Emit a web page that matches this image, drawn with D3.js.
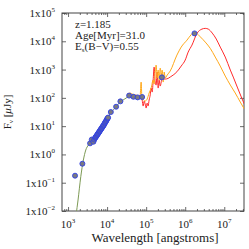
<!DOCTYPE html>
<meta charset="utf-8">
<script src="https://d3js.org/d3.v7.min.js"></script>
<style>
  body { margin: 0; background: #fff; }
  text { font-family: "Liberation Serif", "DejaVu Serif", serif; fill: #222; }
</style>
<div id="chart"></div>
<script>
// observed photometry (wavelength in angstroms, flux in microJy)
var obsWave = [1510, 2327, 3664, 4055, 4460, 4700, 4920, 5070, 5220, 5380, 5540, 5710, 5880, 6050, 6240, 6420,
  6620, 6810, 7020, 7230, 7450, 7670, 7890, 8130, 8380, 8630, 8890, 9160, 9420, 9710, 10000, 10300, 10600,
  12450, 17000, 21900, 36600, 47200, 60500, 78900, 253000, 1730000];
var obsFlux = [0.177, 0.469, 2.47, 3.36, 2.81, 3.36, 3.80, 4.05, 4.29, 4.54, 4.85, 5.17, 5.48, 5.80, 6.19, 6.55,
  7.00, 7.52, 7.90, 8.36, 8.93, 9.60, 10.1, 10.7, 11.4, 12.5, 13.4, 14.2, 15.1, 16.4, 17.8, 18.9, 20.1,
  31.5, 48.5, 75.2, 120, 109, 104, 107, 530, 19000];

// stellar model (green)
var greenWave = [1604, 1803, 2118, 2468, 2844, 3318, 4120, 5540, 7450, 9420, 11940, 16040, 20300, 27300, 36600];
var greenFlux = [0.0072, 0.0245, 0.163, 0.634, 1.43, 2.15, 3.10, 5.05, 9.29, 15.8, 28.3, 43.6, 65.5, 88.5, 116];

// model with dust emission (orange)
var orangeWave = [32600, 38900, 46400, 55400, 62400, 70200, 74400, 77600, 83800, 94200, 106000, 119000, 134000,
  151000, 160000, 170000, 180000, 191000, 203000, 215000, 229000, 243000, 257000, 273000, 290000, 307000,
  345000, 412000, 613000, 789000, 1110000, 1430000, 1630000, 1910000, 2430000, 3260000, 4380000, 5880000,
  7890000, 10600000, 14300000, 19100000, 25700000, 32600000];
var orangeFlux = [136, 148, 131, 126, 116, 126, 362, 116, 90.7, 77.1, 90.7, 148, 222,
  426, 307, 816, 1443, 501, 960, 426, 1130, 639, 960, 362, 816, 501,
  639, 885, 3250, 6240, 11000, 17300, 20300, 19500, 14400, 9370, 5610, 2770,
  1330, 589, 283, 148, 71.1, 40.2];

// second model (red)
var redWave = [62400, 70200, 78900, 83800, 88900, 94200, 100000, 106000, 112000, 119000, 127000, 134000, 143000,
  151000, 160000, 170000, 180000, 191000, 203000, 215000, 229000, 243000, 257000, 273000, 307000, 366000,
  412000, 492000, 613000, 789000, 1000000, 1190000, 1490000, 2000000, 2680000, 3260000, 3890000, 4920000,
  6240000, 7890000, 10600000, 14300000, 17000000, 21500000, 27300000, 32600000];
var redFlux = [116, 107, 83.6, 51.3, 77.1, 60.4, 43.6, 65.5, 51.3, 83.6, 126, 222, 160,
  426, 1225, 362, 283, 816, 222, 426, 261, 362, 639, 462, 462, 489,
  543, 639, 836, 1330, 2170, 4150, 7340, 19000, 27000, 28600, 27000, 19500,
  12000, 6240, 2770, 960, 543, 241, 107, 60.4];

var xMajor = [1e3, 1e4, 1e5, 1e6, 1e7];
var xMajorExp = ["3", "4", "5", "6", "7"];
var yMajor = [1e-2, 1e-1, 1, 10, 100, 1e3, 1e4, 1e5];
var yMajorExp = ["\u22122", "\u22121", "0", "1", "2", "3", "4", "5"];

var infoLines = ["z=1.185", "Age[Myr]=31.0"];

var W = 249, H = 249;
var margin = {top: 13, right: 5, bottom: 38, left: 62};
var width = W - margin.left - margin.right,
    height = H - margin.top - margin.bottom;

var svg = d3.select("#chart").append("svg")
    .attr("width", W).attr("height", H);
var g = svg.append("g")
    .attr("transform", "translate(" + margin.left + "," + margin.top + ")");

var x = d3.scaleLog().domain([700, 3.2e7]).range([0, width]);
var y = d3.scaleLog().domain([1e-2, 1e5]).range([height, 0]);

g.append("clipPath").attr("id", "clip")
  .append("rect").attr("width", width).attr("height", height);

// minor ticks on the x axis
var xMinor = [];
[100, 1000, 10000, 100000, 1000000, 10000000].forEach(function(dec) {
  [2, 3, 4, 5, 6, 7, 8, 9].forEach(function(m) {
    var v = dec * m;
    if (v > 700 && v < 3.2e7) xMinor.push(v);
  });
});

function tickAxis(axis, vals, size) {
  return axis.tickValues(vals).tickSize(size).tickFormat("");
}

var axes = g.append("g").attr("class", "axes");
axes.append("g").attr("transform", "translate(0," + height + ")")
  .call(tickAxis(d3.axisBottom(x), xMajor, -4));
axes.append("g").attr("transform", "translate(0," + height + ")")
  .call(tickAxis(d3.axisBottom(x), xMinor, -2));
axes.append("g").call(tickAxis(d3.axisTop(x), xMajor, -4));
axes.append("g").call(tickAxis(d3.axisTop(x), xMinor, -2));
axes.append("g").call(tickAxis(d3.axisLeft(y), yMajor, -4));
axes.append("g").attr("transform", "translate(" + width + ",0)")
  .call(tickAxis(d3.axisRight(y), yMajor, -4));
axes.selectAll("path.domain").remove();
axes.selectAll("line").attr("stroke", "#444").attr("stroke-width", 0.8);

// frame
g.append("rect").attr("width", width).attr("height", height)
  .attr("fill", "none").attr("stroke", "#444").attr("stroke-width", 1);

// x tick labels
var xl = g.selectAll(".xlab").data(xMajor).enter().append("text")
  .attr("x", function(d) { return x(d); })
  .attr("y", height + 17)
  .attr("text-anchor", "middle")
  .style("font-size", "11px");
xl.append("tspan").text("10");
xl.append("tspan").attr("dy", -5).style("font-size", "7px")
  .text(function(d, i) { return xMajorExp[i]; });

// y tick labels
var yl = g.selectAll(".ylab").data(yMajor).enter().append("text")
  .attr("x", -7)
  .attr("y", function(d) { return y(d) + 4; })
  .attr("text-anchor", "end")
  .style("font-size", "11px");
yl.append("tspan").text("1x10");
yl.append("tspan").attr("dy", -5).style("font-size", "7px")
  .text(function(d, i) { return yMajorExp[i]; });

// model curves
var line = d3.line()
  .x(function(d) { return x(d[0]); })
  .y(function(d) { return y(d[1]); })
  .curve(d3.curveMonotoneX);
var curves = g.append("g").attr("clip-path", "url(#clip)");
curves.append("path")
  .datum(d3.zip(greenWave, greenFlux))
  .attr("d", line).attr("fill", "none")
  .attr("stroke", "#7d9a55").attr("stroke-width", 1);
curves.append("path")
  .datum(d3.zip(redWave, redFlux))
  .attr("d", line).attr("fill", "none")
  .attr("stroke", "#ff2a2a").attr("stroke-width", 1);
curves.append("path")
  .datum(d3.zip(orangeWave, orangeFlux))
  .attr("d", line).attr("fill", "none")
  .attr("stroke", "#ffa81a").attr("stroke-width", 1);

// observed points
g.selectAll(".pt").data(d3.zip(obsWave, obsFlux)).enter().append("circle")
  .attr("cx", function(d) { return x(d[0]); })
  .attr("cy", function(d) { return y(d[1]); })
  .attr("r", 2.5)
  .attr("fill", "#7a7a80")
  .attr("stroke", "#2f3fe8")
  .attr("stroke-width", 0.9);

// info text
g.selectAll(".info").data(infoLines).enter().append("text")
  .attr("x", 13)
  .attr("y", function(d, i) { return 15 + i * 11; })
  .style("font-size", "11px")
  .text(function(d) { return d; });
var ebv = g.append("text").attr("x", 13).attr("y", 37).style("font-size", "11px");
ebv.append("tspan").text("E");
ebv.append("tspan").attr("dy", 2).style("font-size", "7px").text("s");
ebv.append("tspan").attr("dy", -2).text("(B\u2212V)=0.55");

// axis titles
svg.append("text")
  .attr("x", margin.left + width / 2 + 2)
  .attr("y", H - 7)
  .attr("text-anchor", "middle")
  .style("font-size", "13px")
  .text("Wavelength [angstroms]");

var yt = svg.append("text")
  .attr("transform", "translate(11," + (margin.top + height / 2) + ") rotate(-90)")
  .attr("text-anchor", "middle")
  .style("font-size", "11px");
yt.append("tspan").text("F");
yt.append("tspan").attr("dy", 2).style("font-size", "7px").text("\u03bd");
yt.append("tspan").attr("dy", -2).text(" [");
yt.append("tspan").style("font-style", "italic").text("\u03bc");
yt.append("tspan").text("Jy]");
</script>
